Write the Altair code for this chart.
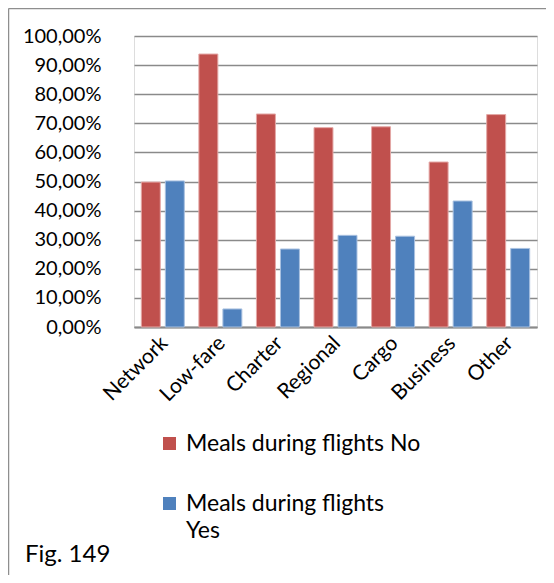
import altair as alt
import pandas as pd

categories = ["Network", "Low-fare", "Charter", "Regional", "Cargo", "Business", "Other"]
no_values = [49.8, 93.8, 73.2, 68.5, 68.8, 56.7, 73.0]
yes_values = [50.2, 6.2, 26.8, 31.5, 31.2, 43.3, 27.0]
series = ["No", "Yes"]
series_colors = ["#C0504D", "#4F81BD"]
series_strokes = ["#E4A8A6", "#A9C1E0"]
y_ticks = [0, 10, 20, 30, 40, 50, 60, 70, 80, 90, 100]
fig_label = "Fig. 149"

rows = []
for c, n, y in zip(categories, no_values, yes_values):
    rows.append({"category": c, "series": "No", "value": n})
    rows.append({"category": c, "series": "Yes", "value": y})
df = pd.DataFrame(rows)

FONT = "Lato"
W, H = 403, 291
PL, PT = 126, 28

bars = alt.Chart(df).mark_bar(strokeWidth=1).encode(
    x=alt.X("category:N", sort=categories, title=None,
            scale=alt.Scale(paddingInner=0.253, paddingOuter=0.127),
            axis=alt.Axis(labelAngle=-45, labelAlign="right", labelBaseline="top",
                          labelPadding=5, labelOffset=-6, ticks=False, domainColor="#8A8A8A",
                          domainWidth=2, labelFontSize=21, labelFont=FONT,
                          labelColor="#000000", grid=False)),
    xOffset=alt.XOffset("series:N", sort=series,
                        scale=alt.Scale(paddingInner=0.21, paddingOuter=0)),
    y=alt.Y("value:Q", title=None,
            scale=alt.Scale(domain=[0, 100], nice=False),
            axis=alt.Axis(values=y_ticks, domain=False, ticks=False,
                          labelExpr="replace(format(datum.value, '.2f'), '.', ',') + '%'",
                          labelFontSize=20, labelFont=FONT, labelColor="#000000",
                          labelPadding=33, gridColor="#8A8A8A", gridWidth=1.5)),
    color=alt.Color("series:N", sort=series,
                    scale=alt.Scale(domain=series, range=series_colors),
                    legend=alt.Legend(orient="none", legendX=24, legendY=396,
                                      title=None, symbolType="square", symbolSize=170,
                                      symbolStrokeWidth=0, symbolOpacity=1,
                                      labelFont=FONT, labelFontSize=23, labelColor="#000000",
                                      labelOffset=5, rowPadding=36, padding=0,
                                      labelLimit=400,
                                      labelExpr="datum.label == 'No' ? 'Meals during flights No' : ['Meals during flights', 'Yes']")),
    stroke=alt.Stroke("series:N", sort=series,
                      scale=alt.Scale(domain=series, range=series_strokes), legend=None),
)

one = pd.DataFrame([{"k": 1}])
left_edge = alt.Chart(one).mark_rule(color="#8E8E8E", strokeWidth=1.5).encode(
    x=alt.value(-PL + 0.5), y=alt.value(-PT + 0.5), y2=alt.value(H + 300),
)
top_edge = alt.Chart(one).mark_rule(color="#8E8E8E", strokeWidth=1.5).encode(
    y=alt.value(-PT + 0.5), x=alt.value(-PL + 0.5), x2=alt.value(W + 40),
)

fig = alt.Chart(pd.DataFrame({"t": [fig_label]})).mark_text(
    align="left", baseline="alphabetic", font=FONT, fontSize=24, color="#000000"
).encode(text="t:N", x=alt.value(-109), y=alt.value(526))

chart = alt.layer(left_edge, top_edge, bars, fig).properties(
    width=W, height=H,
    autosize=alt.AutoSizeParams(type="none"),
    padding={"left": PL, "top": PT, "right": 538 - PL - W, "bottom": 567 - PT - H},
).configure_view(stroke=None).configure(
    background="#FFFFFF",
    style={"guide-label": {"lineHeight": 27}},
)

chart.save("out.html", embed_options={"renderer": "svg", "actions": False})
